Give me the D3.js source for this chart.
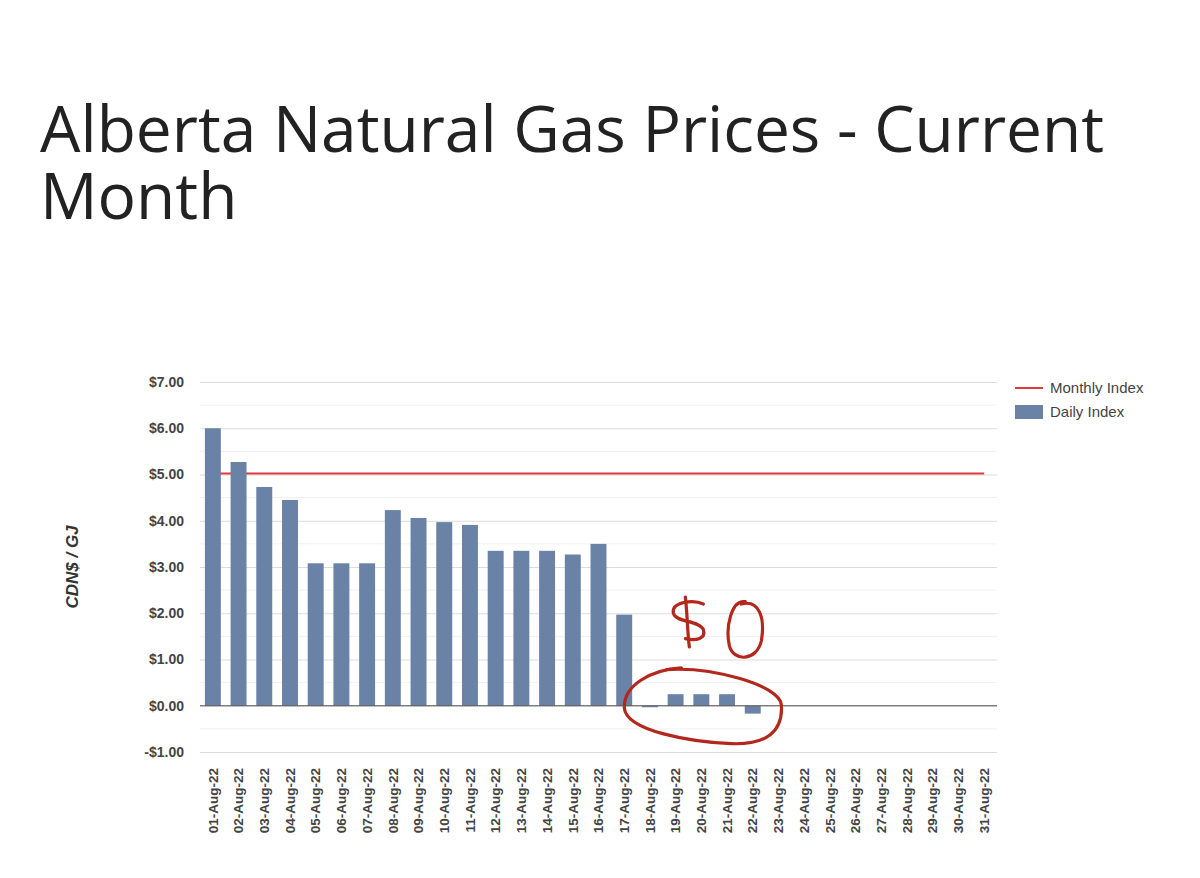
<!DOCTYPE html>
<html>
<head>
<meta charset="utf-8">
<script src="https://cdn.jsdelivr.net/npm/d3@7"></script>
<style>
  body { margin: 0; background: #fff; }
  svg { display: block; }
  .title { font-family: "Open Sans", "Noto Sans", sans-serif; font-size: 64px; fill: #222; }
  .tick text { font-family: "Liberation Sans", Arial, sans-serif; font-weight: bold; fill: #444; }
  .legend text { font-family: "Liberation Sans", Arial, sans-serif; font-size: 15px; fill: #444; }
</style>
</head>
<body>
<script>
const days = d3.range(1, 32).map(d => String(d).padStart(2, '0') + '-Aug-22')
const dailyIndex = [6.00, 5.27, 4.73, 4.45, 3.08, 3.08, 3.08, 4.23, 4.06, 3.97, 3.91,
  3.35, 3.35, 3.35, 3.27, 3.50, 1.97, -0.03, 0.25, 0.25, 0.25, -0.17]
const monthlyIndex = 5.02
const yTicks = [-1, 0, 1, 2, 3, 4, 5, 6, 7]
const titleLines = ['Alberta Natural Gas Prices - Current', 'Month']

const width = 1200, height = 878
const margin = {top: 382, right: 203, bottom: 126, left: 200}

const svg = d3.select('body').append('svg')
    .attr('width', width)
    .attr('height', height)

// Title, wrapped on two lines
svg.append('text').attr('class', 'title').attr('y', 152)
    .selectAll('tspan')
    .data(titleLines)
    .join('tspan')
    .attr('x', 40)
    .attr('dy', (d, i) => i ? 67 : 0)
    .text(d => d)

const x = d3.scaleBand()
    .domain(days)
    .range([margin.left, width - margin.right])
    .paddingInner(0.38)
    .paddingOuter(0.19)

const y = d3.scaleLinear()
    .domain([-1, 7])
    .range([height - margin.bottom, margin.top])

// minor gridlines at half dollars
svg.append('g')
    .selectAll('line')
    .data(d3.range(-0.5, 7, 1))
    .join('line')
    .attr('x1', margin.left).attr('x2', width - margin.right)
    .attr('y1', d => y(d)).attr('y2', d => y(d))
    .attr('stroke', '#f1f1f1')

// y axis with major gridlines
const yAxis = svg.append('g')
    .attr('transform', `translate(${margin.left},0)`)
    .call(d3.axisLeft(y).tickValues(yTicks)
        .tickSize(-(width - margin.left - margin.right))
        .tickPadding(16)
        .tickFormat(d => (d < 0 ? '-$' : '$') + Math.abs(d).toFixed(2)))
yAxis.select('.domain').remove()
yAxis.selectAll('.tick line').attr('stroke', '#dcdcdc')
yAxis.selectAll('.tick text').attr('font-size', 14)

// monthly index line (behind bars)
svg.append('line')
    .attr('x1', x(days[0]) + x.bandwidth() / 2)
    .attr('x2', x(days[days.length - 1]) + x.bandwidth() / 2)
    .attr('y1', y(monthlyIndex)).attr('y2', y(monthlyIndex))
    .attr('stroke', '#e0393e')
    .attr('stroke-width', 2)

// daily bars
svg.append('g')
    .selectAll('rect')
    .data(dailyIndex)
    .join('rect')
    .attr('x', (d, i) => x(days[i]))
    .attr('width', x.bandwidth())
    .attr('y', d => y(Math.max(0, d)))
    .attr('height', d => Math.max(1.5, Math.abs(y(d) - y(0))))
    .attr('fill', '#6a82a6')

// zero line
svg.append('line')
    .attr('x1', margin.left).attr('x2', width - margin.right)
    .attr('y1', y(0)).attr('y2', y(0))
    .attr('stroke', '#555')

// x axis labels
const xAxis = svg.append('g')
    .attr('transform', `translate(0,${y(-1)})`)
    .call(d3.axisBottom(x).tickSize(0).tickPadding(0))
xAxis.select('.domain').remove()
xAxis.selectAll('.tick text')
    .attr('font-size', 13.5)
    .attr('transform', 'rotate(-90)')
    .attr('text-anchor', 'end')
    .attr('dx', '-16')
    .attr('dy', '0.35em')
    .attr('y', 0)

// y axis title
svg.append('text')
    .attr('transform', `translate(78,${(y(7) + y(-1)) / 2}) rotate(-90)`)
    .attr('text-anchor', 'middle')
    .attr('font-family', '"Liberation Sans", Arial, sans-serif')
    .attr('font-size', 17)
    .attr('font-weight', 'bold')
    .attr('font-style', 'italic')
    .attr('fill', '#333')
    .text('CDN$ / GJ')

// legend
const legend = svg.append('g').attr('class', 'legend')
    .attr('transform', 'translate(1015,388)')
legend.append('line').attr('x1', 0).attr('x2', 28)
    .attr('stroke', '#e0393e').attr('stroke-width', 2)
legend.append('text').attr('x', 35).attr('y', 5).text('Monthly Index')
legend.append('rect').attr('x', 0).attr('y', 17).attr('width', 28).attr('height', 14)
    .attr('fill', '#6a82a6')
legend.append('text').attr('x', 35).attr('y', 29).text('Daily Index')

// hand-drawn annotation: "$0" and loop round the near-zero bars
const ann = svg.append('g')
    .attr('fill', 'none')
    .attr('stroke', '#b3271d')
    .attr('stroke-width', 3.2)
    .attr('stroke-linecap', 'round')
    .attr('stroke-linejoin', 'round')
const cx = x(days[19]) + x.bandwidth() / 2
ann.append('path')  // "S" of the dollar sign
    .attr('d', `M${cx + 2},${y(2.2)} C${cx - 8},${y(2.3)} ${cx - 30},${y(2.25)} ${cx - 28},${y(2.0)}
      C${cx - 26},${y(1.8)} ${cx - 2},${y(1.85)} ${cx + 2},${y(1.65)}
      C${cx + 5},${y(1.45)} ${cx - 5},${y(1.4)} ${cx - 16},${y(1.45)}`)
ann.append('path')  // dollar stroke
    .attr('d', `M${cx - 16},${y(2.35)} C${cx - 14},${y(2.0)} ${cx - 14},${y(1.6)} ${cx - 12},${y(1.27)}`)
ann.append('path')  // zero
    .attr('d', `M${cx + 44},${y(2.25)} C${cx + 30},${y(2.3)} ${cx + 24},${y(1.7)} ${cx + 28},${y(1.3)}
      C${cx + 32},${y(0.95)} ${cx + 55},${y(0.95)} ${cx + 60},${y(1.4)}
      C${cx + 64},${y(1.9)} ${cx + 58},${y(2.3)} ${cx + 40},${y(2.2)}`)
ann.append('path')  // loop
    .attr('d', `M${cx - 35},${y(0.78)} C${cx + 10},${y(0.85)} ${cx + 78},${y(0.45)} ${cx + 80},${y(0.02)}
      C${cx + 82},${y(-0.55)} ${cx + 65},${y(-0.85)} ${cx + 30},${y(-0.82)}
      C${cx - 10},${y(-0.78)} ${cx - 75},${y(-0.55)} ${cx - 77},${y(-0.05)}
      C${cx - 78},${y(0.45)} ${cx - 50},${y(0.78)} ${cx - 20},${y(0.82)}`)
</script>
</body>
</html>
